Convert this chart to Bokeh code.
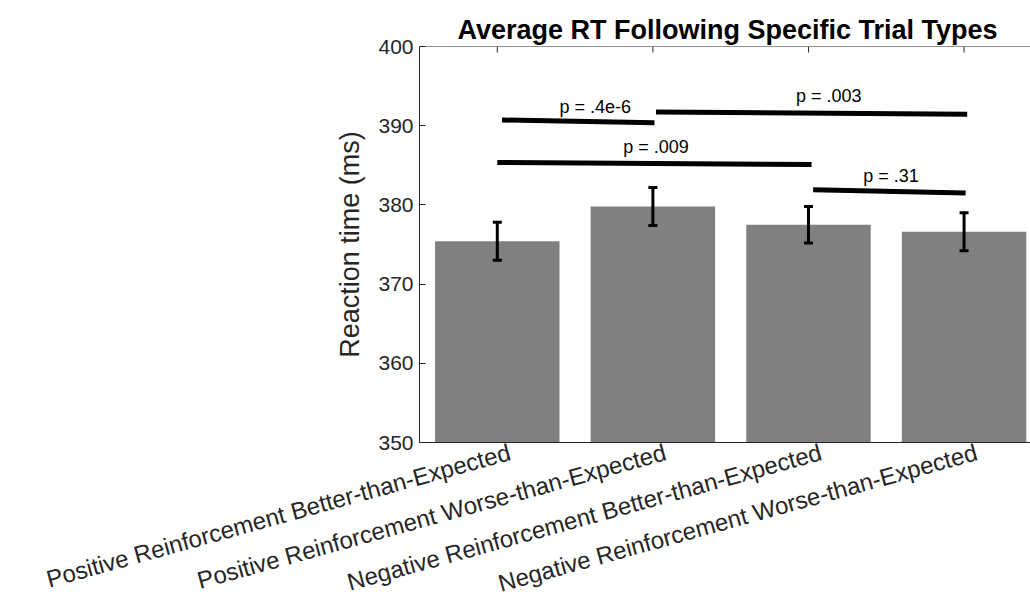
from bokeh.plotting import figure
from bokeh.models import (Range1d, LinearAxis, FixedTicker, Whisker, TeeHead,
                          ColumnDataSource, Span, CustomJSTickFormatter)
from bokeh.core.properties import value
from bokeh.embed import file_html
from bokeh.resources import INLINE

# Mean reaction time after each trial type, with standard errors
conditions = [
    "Positive Reinforcement Better-than-Expected",
    "Positive Reinforcement Worse-than-Expected",
    "Negative Reinforcement Better-than-Expected",
    "Negative Reinforcement Worse-than-Expected",
]
positions = [1, 2, 3, 4]
mean_rt = [375.4, 379.8, 377.5, 376.6]
sem_rt = [2.4, 2.4, 2.3, 2.4]

# Pairwise comparisons: bracket ends and p-value labels
sig_x0 = [1.03, 2.02, 1.00, 3.03]
sig_x1 = [2.01, 4.02, 3.02, 4.01]
sig_y0 = [390.72, 391.73, 385.36, 381.90]
sig_y1 = [390.38, 391.43, 385.10, 381.50]
p_text = ["p = .4e-6", "p = .003", "p = .009", "p = .31"]
p_x = [1.63, 3.13, 2.02, 3.53]
p_y = [392.35, 393.70, 387.30, 383.60]

y_ticks = [350, 360, 370, 380, 390, 400]

FONT = "Liberation Sans"
AX = "#262626"
Y0, Y1 = 350, 400
FRAME_H = 396
TICK_PX = 6

p = figure(width=1030, height=613, output_backend="svg", toolbar_location=None,
           x_range=Range1d(0.5, 4.427), y_range=Range1d(Y0, Y1),
           x_axis_location=None, y_axis_location=None,
           min_border_left=419, min_border_right=0,
           min_border_top=46, min_border_bottom=171)
p.outline_line_color = None
p.xgrid.visible = False
p.ygrid.visible = False
p.background_fill_color = "white"
p.border_fill_color = "white"

# Title
p.title.text = "Average RT Following Specific Trial Types"
p.title.align = "left"
p.title.offset = 38
p.title.standoff = 3
p.title.text_font = FONT
p.title.text_font_size = "27px"
p.title.text_font_style = "bold"
p.title.text_color = "black"

bars = ColumnDataSource(dict(x=positions, top=mean_rt,
                             upper=[m + s for m, s in zip(mean_rt, sem_rt)],
                             lower=[m - s for m, s in zip(mean_rt, sem_rt)]))
p.vbar(x="x", top="top", bottom=Y0, width=0.8, source=bars,
       fill_color="#808080", line_color=None)

err = Whisker(base="x", upper="upper", lower="lower", source=bars,
              level="overlay", line_color="black", line_width=3,
              upper_head=TeeHead(size=9, line_width=3, line_color="black"),
              lower_head=TeeHead(size=9, line_width=3, line_color="black"))
p.add_layout(err)

p.segment(x0=sig_x0, y0=sig_y0, x1=sig_x1, y1=sig_y1,
          line_color="black", line_width=5)
p.text(x=p_x, y=p_y, text=p_text, text_align="center", text_baseline="middle",
       text_font=value(FONT), text_font_size="18px", text_color="black")

# Top edge of the box with inward ticks at the bar centres
p.add_layout(Span(location=Y1, dimension="width", line_color=AX, line_width=1))
tick_len = TICK_PX * (Y1 - Y0) / FRAME_H
p.segment(x0=positions, x1=positions, y0=[Y1] * 4, y1=[Y1 - tick_len] * 4,
          line_color=AX, line_width=1)

# Left axis
yax = LinearAxis(ticker=FixedTicker(ticks=y_ticks))
yax.axis_label = "Reaction time (ms)"
yax.axis_label_text_font = FONT
yax.axis_label_text_font_size = "27px"
yax.axis_label_text_font_style = "normal"
yax.axis_label_text_color = AX
yax.axis_label_standoff = 10
yax.major_label_text_font = FONT
yax.major_label_text_font_size = "21px"
yax.major_label_text_color = AX
yax.major_label_standoff = 6
yax.major_tick_in = TICK_PX
yax.major_tick_out = 0
yax.minor_tick_line_color = None
yax.axis_line_color = AX
yax.major_tick_line_color = AX
p.add_layout(yax, "left")

# Bottom axis with rotated category labels, anchored slightly right of centre
label_shift = 0.08
xax = LinearAxis(ticker=FixedTicker(ticks=[x + label_shift for x in positions]))
xax.formatter = CustomJSTickFormatter(args=dict(names=conditions),
                                      code="return names[Math.round(tick) - 1];")
xax.major_label_orientation = 0.27
xax.major_label_text_font = FONT
xax.major_label_text_font_size = "24px"
xax.major_label_text_color = AX
xax.major_label_standoff = 9
xax.major_tick_in = 0
xax.major_tick_out = 0
xax.minor_tick_line_color = None
xax.axis_line_color = AX
p.add_layout(xax, "below")

open("out.html", "w").write(file_html(p, INLINE))
